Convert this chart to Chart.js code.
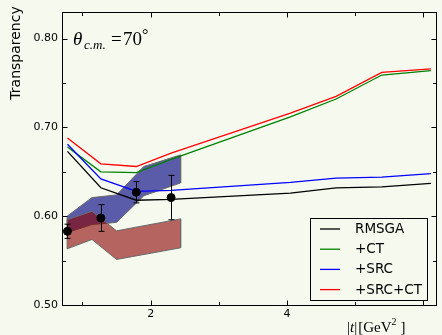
<!DOCTYPE html>
<html>
<head>
<meta charset="utf-8">
<script src="https://cdn.jsdelivr.net/npm/chart.js@4.4.0/dist/chart.umd.min.js"></script>
<style>
  html, body { margin: 0; padding: 0; background: #f6faee; }
  canvas { display: block; }
</style>
</head>
<body>
<canvas id="transp" width="442" height="335"></canvas>
<script>
// |t| grid of the Glauber curves
const tGrid = [0.78, 1.27, 1.79, 2.30, 4.05, 4.72, 5.39, 6.11];
const rmsga      = [0.673, 0.632, 0.618, 0.619, 0.626, 0.632, 0.633, 0.637];
const rmsgaCT    = [0.678, 0.650, 0.649, 0.664, 0.712, 0.732, 0.759, 0.764];
const rmsgaSRC   = [0.681, 0.642, 0.628, 0.629, 0.638, 0.643, 0.644, 0.648];
const rmsgaSRCCT = [0.688, 0.659, 0.656, 0.671, 0.716, 0.735, 0.762, 0.766];
const seriesNames = ["RMSGA", "+CT", "+SRC", "+SRC+CT"];
const seriesColors = ["#000000", "#008000", "#0000ff", "#ff0000"];

// measured transparencies with errors
const dataT   = [0.78, 1.27, 1.79, 2.30];
const dataVal = [0.583, 0.598, 0.627, 0.621];
const dataErr = [0.008, 0.015, 0.012, 0.025];

// uncertainty bands
const blueT  = [0.775, 1.14, 1.50, 1.90, 2.44];
const blueHi = [0.600, 0.621, 0.624, 0.656, 0.669];
const blueLo = [0.5815, 0.5906, 0.593, 0.623, 0.6375];
const redT   = [0.775, 1.14, 1.50, 2.44];
const redHi  = [0.596, 0.6055, 0.5835, 0.597];
const redLo  = [0.5633, 0.5738, 0.5513, 0.5644];

// ticks
const xMajor = [2, 4, 6];
const xMinor = [1, 3, 5];
const yMajor = [0.50, 0.60, 0.70, 0.80];
const yMinor = [0.55, 0.65, 0.75];

const BG = "#f6faee";

function polygon(xs, hi, lo) {
  const pts = xs.map((x, i) => ({ x: x, y: hi[i] }));
  for (let i = xs.length - 1; i >= 0; i--) pts.push({ x: xs[i], y: lo[i] });
  pts.push({ x: xs[0], y: hi[0] });
  return pts;
}

function curve(ys) {
  return tGrid.map((x, i) => ({ x: x, y: ys[i] }));
}

const curves = [rmsga, rmsgaCT, rmsgaSRC, rmsgaSRCCT].map((ys, i) => ({
  label: seriesNames[i],
  data: curve(ys),
  showLine: true,
  borderColor: seriesColors[i],
  borderWidth: 1.3,
  pointRadius: 0,
  fill: false,
  order: 5 - i,
}));

const near = (a, b) => Math.abs(a - b) < 1e-6;

const decor = {
  id: "decor",
  beforeDraw(chart) {
    const c = chart.ctx;
    c.save();
    c.fillStyle = BG;
    c.fillRect(0, 0, chart.width, chart.height);
    c.restore();
  },
  afterDatasetsDraw(chart) {
    const c = chart.ctx;
    const xs = chart.scales.x, ys = chart.scales.y;
    const a = chart.chartArea;
    c.save();
    // error bars
    c.strokeStyle = "#000";
    c.lineWidth = 1;
    dataT.forEach((t, i) => {
      const px = Math.round(xs.getPixelForValue(t)) + 0.5;
      const top = ys.getPixelForValue(dataVal[i] + dataErr[i]);
      const bot = ys.getPixelForValue(dataVal[i] - dataErr[i]);
      c.beginPath();
      c.moveTo(px, top); c.lineTo(px, bot);
      c.moveTo(px - 3, top); c.lineTo(px + 3, top);
      c.moveTo(px - 3, bot); c.lineTo(px + 3, bot);
      c.stroke();
    });
    // frame
    const L = Math.round(a.left) + 0.5, R = Math.round(a.right) - 0.5;
    const T = Math.round(a.top) + 0.5, B = Math.round(a.bottom) + 0.5;
    c.strokeRect(L, T, R - L, B - T);
    // inward ticks on all four sides
    c.beginPath();
    const xt = (v, len) => {
      const p = Math.round(xs.getPixelForValue(v)) + 0.5;
      c.moveTo(p, B); c.lineTo(p, B - len);
      c.moveTo(p, T); c.lineTo(p, T + len);
    };
    const yt = (v, len) => {
      const p = Math.round(ys.getPixelForValue(v)) + 0.5;
      c.moveTo(L, p); c.lineTo(L + len, p);
      c.moveTo(R, p); c.lineTo(R - len, p);
    };
    xMajor.forEach(v => xt(v, 5));
    xMinor.forEach(v => xt(v, 3.5));
    yMajor.forEach(v => yt(v, 5));
    yMinor.forEach(v => yt(v, 3.5));
    c.stroke();
    c.restore();
  },
  afterDraw(chart) {
    const c = chart.ctx;
    c.save();
    c.fillStyle = "#000";
    c.textBaseline = "alphabetic";

    // legend box
    const bx = 310.5, by = 218.5, bw = 117, bh = 82;
    c.fillStyle = BG;
    c.fillRect(bx, by, bw, bh);
    c.strokeStyle = "#000";
    c.lineWidth = 1;
    c.strokeRect(bx, by, bw, bh);
    c.font = '13.5px "DejaVu Sans"';
    c.textBaseline = "middle";
    seriesNames.forEach((name, i) => {
      const yy = 229 + i * 20.2;
      c.strokeStyle = seriesColors[i];
      c.lineWidth = 1.3;
      c.beginPath();
      c.moveTo(320, yy); c.lineTo(340, yy);
      c.stroke();
      c.fillStyle = "#000";
      c.fillText(name, 355, yy + 0.5);
    });

    // y axis title
    c.save();
    c.translate(16, 53);
    c.rotate(-Math.PI / 2);
    c.textAlign = "center";
    c.textBaseline = "middle";
    c.font = '14px "DejaVu Sans"';
    c.fillText("Transparency", 0, 0);
    c.restore();

    // angle annotation
    c.textBaseline = "alphabetic";
    c.textAlign = "left";
    c.font = 'italic 19px "Liberation Serif"';
    c.fillText("\u03B8", 73, 45);
    c.font = 'italic 13px "Liberation Serif"';
    c.fillText("c.m.", 84, 49);
    c.font = '19px "Liberation Serif"';
    c.fillText("=", 111, 45);
    c.fillText("70", 123, 45);
    c.font = '16px "Liberation Serif"';
    c.fillText("\u00B0", 142, 40);

    // x axis title |t| [GeV^2]
    let x = 347;
    const put = (s, font, dy) => {
      c.font = font;
      c.fillText(s, x, 332 + (dy || 0));
      x += c.measureText(s).width;
    };
    put("|", '15px "Liberation Serif"');
    put("t", 'italic 15px "Liberation Serif"');
    put("|", '15px "Liberation Serif"');
    x += 1;
    put("[GeV", '15px "Liberation Serif"');
    put("2", '10px "Liberation Serif"', -7);
    x += 4;
    put("]", '15px "Liberation Serif"');
    c.restore();
  },
};

new Chart(document.getElementById("transp"), {
  type: "scatter",
  data: {
    datasets: [
      ...curves,
      {
        label: "data",
        data: dataT.map((t, i) => ({ x: t, y: dataVal[i] })),
        pointRadius: 4,
        pointBackgroundColor: "#000",
        pointBorderColor: "#000",
        showLine: false,
        order: 1,
      },
      {
        label: "band SRC+CT",
        data: polygon(blueT, blueHi, blueLo),
        showLine: true,
        fill: "shape",
        backgroundColor: "rgba(0, 0, 128, 0.63)",
        borderColor: "#6a6a6a",
        borderWidth: 1,
        pointRadius: 0,
        order: 20,
      },
      {
        label: "band RMSGA",
        data: polygon(redT, redHi, redLo),
        showLine: true,
        fill: "shape",
        backgroundColor: "rgba(139, 0, 0, 0.6)",
        borderColor: "#6a6a6a",
        borderWidth: 1,
        pointRadius: 0,
        order: 15,
      },
    ],
  },
  options: {
    responsive: false,
    animation: false,
    devicePixelRatio: 1,
    layout: { padding: { top: 12, right: 1, left: 0, bottom: 0 } },
    plugins: {
      legend: { display: false },
      tooltip: { enabled: false },
      filler: { drawTime: "beforeDatasetDraw" },
    },
    scales: {
      x: {
        type: "linear",
        min: 0.7,
        max: 6.2,
        afterFit: (s) => { s.height = 30; },
        grid: { display: false, drawTicks: false },
        border: { display: false },
        ticks: {
          stepSize: 1,
          autoSkip: false,
          maxRotation: 0,
          padding: 3,
          color: "#000",
          font: { family: "DejaVu Sans", size: 11 },
          callback: (v) => (xMajor.some(m => near(m, v)) ? String(v) : ""),
        },
      },
      y: {
        type: "linear",
        min: 0.5,
        max: 0.83,
        afterFit: (s) => { s.width = 62; },
        grid: { display: false, drawTicks: false },
        border: { display: false },
        ticks: {
          stepSize: 0.05,
          autoSkip: false,
          padding: 4,
          color: "#000",
          font: { family: "DejaVu Sans", size: 11 },
          callback: (v) => (yMajor.some(m => near(m, v)) ? v.toFixed(2) : ""),
        },
      },
    },
  },
  plugins: [decor],
});
</script>
</body>
</html>
